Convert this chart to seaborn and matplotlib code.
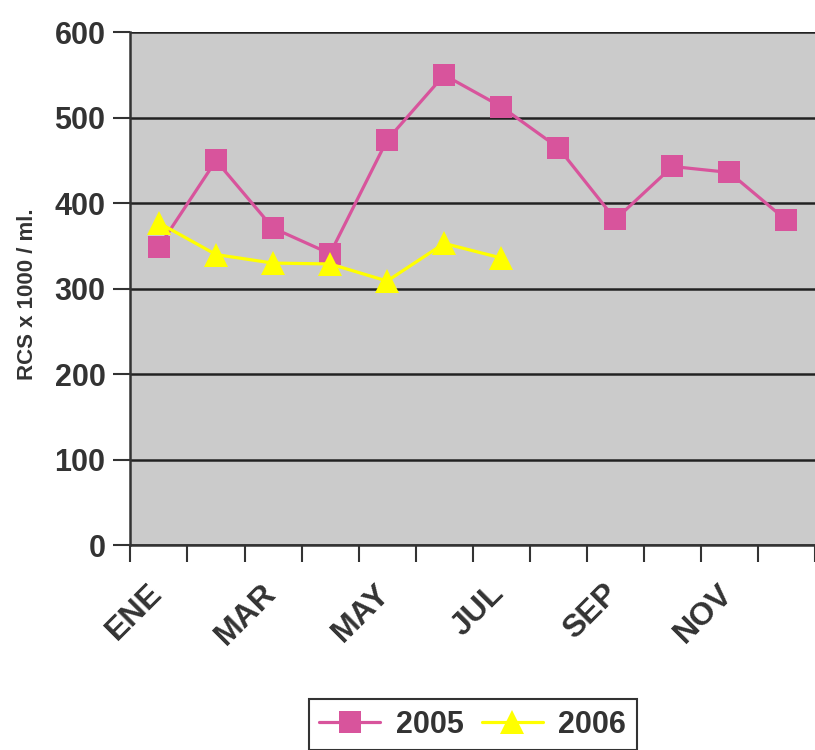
import numpy as np
import pandas as pd
import matplotlib
matplotlib.use("Agg")
import matplotlib.pyplot as plt
import matplotlib.transforms as mtransforms
import seaborn as sns

months = ["ENE", "FEB", "MAR", "ABR", "MAY", "JUN", "JUL", "AGO", "SEP", "OCT", "NOV", "DIC"]
shown_labels = ["ENE", "MAR", "MAY", "JUL", "SEP", "NOV"]

rcs_2005 = [349, 450, 371, 341, 474, 550, 513, 465, 381, 443, 436, 380]
rcs_2006 = [377, 340, 330, 329, 309, 353, 336]

sns.set_style("white")
plt.rcParams['font.family'] = ['Liberation Sans', 'DejaVu Sans']

fig = plt.figure(figsize=(8.15, 7.5), dpi=100)
ax = fig.add_axes([0.16, 0.273, 0.84, 0.684])
ax.set_facecolor("#cbcbcb")

x_pos = np.arange(len(months))

sns.lineplot(x=x_pos, y=rcs_2005, ax=ax, color="#d8549c", linewidth=2.3,
             marker="s", markersize=16, markeredgewidth=0, label="2005")
sns.lineplot(x=x_pos[:len(rcs_2006)], y=rcs_2006, ax=ax, color="#ffff00", linewidth=2.3,
             marker="^", markersize=17, markeredgewidth=0, label="2006")

ax.set_ylim(0, 600)
ax.set_xlim(-0.5, 11.5)

# gridlines
ax.set_yticks(range(0, 601, 100))
ax.yaxis.grid(True, color="#222222", linewidth=1.8)
ax.set_axisbelow(True)
ax.tick_params(axis="y", left=True, direction="out", length=12, width=1.5, color="#333333",
               labelsize=22, labelcolor="#333333", pad=6)
for lbl in ax.get_yticklabels():
    lbl.set_fontweight("bold")

# x axis: labels on odd months, tick marks between categories
ax.set_xticks([months.index(m) for m in shown_labels])
ax.set_xticklabels(shown_labels, rotation=45, ha="right", rotation_mode="anchor",
                   fontsize=23, fontweight="bold", color="#333333")
ax.tick_params(axis="x", which="major", length=0, pad=24)
ax.set_xticks(np.arange(-0.5, 12, 1), minor=True)
ax.tick_params(axis="x", which="minor", bottom=True, direction="out", length=12,
               width=1.5, color="#333333")
shift = mtransforms.ScaledTranslation(-12 / 100, 0, fig.dpi_scale_trans)
for lbl in ax.get_xticklabels():
    lbl.set_transform(lbl.get_transform() + shift)

for side in ["top", "right"]:
    ax.spines[side].set_visible(False)
for side in ["left", "bottom"]:
    ax.spines[side].set_color("#333333")
    ax.spines[side].set_linewidth(1.8)

ax.set_xlabel("")
ax.set_ylabel("RCS x 1000 / ml.", fontsize=16, fontweight="bold", color="#333333")
ax.yaxis.set_label_coords(-0.135, 0.49)

leg = ax.legend(loc="upper center", bbox_to_anchor=(0.5, -0.27), ncol=2,
                frameon=True, fancybox=False, framealpha=1, edgecolor="#333333",
                prop={"size": 22, "weight": "bold"}, handlelength=2.0,
                columnspacing=0.6, borderpad=0.35, handletextpad=0.5)
leg.get_frame().set_linewidth(1.5)
for t in leg.get_texts():
    t.set_color("#333333")

fig.savefig("out.png", dpi=100)
